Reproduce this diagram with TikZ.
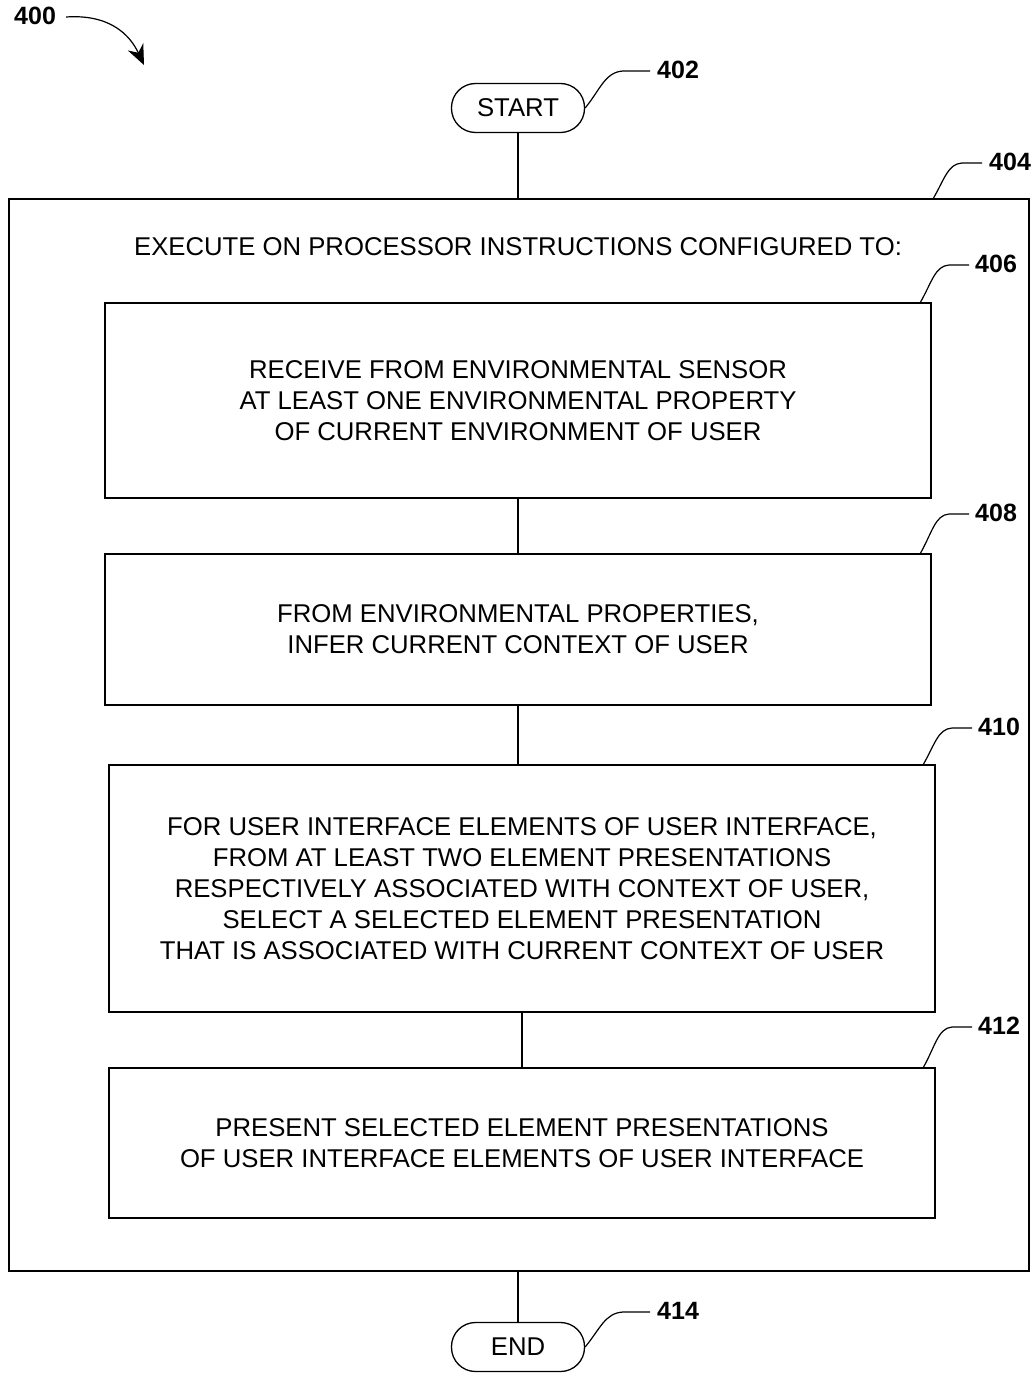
\documentclass[tikz,border=0pt]{standalone}
\usepackage{fontspec}
\setmainfont{Liberation Sans}
\usetikzlibrary{arrows.meta}
\tikzset{
  stepbox/.style={draw, line width=1.3pt, inner sep=0pt, align=center, font=\fontsize{25.7}{31}\selectfont},
  term/.style={draw, line width=1.3pt, rounded corners=24pt, minimum width=133pt, minimum height=49pt, inner sep=0pt, font=\fontsize{25.7}{31}\selectfont},
  conn/.style={line width=1.3pt},
  leader/.style={line width=1.2pt},
  lab/.style={font=\bfseries\fontsize{25}{28}\selectfont, inner sep=0pt, anchor=west}
}
\begin{document}
\begin{tikzpicture}[x=1pt,y=-1pt]
\useasboundingbox[fill=white] (0,0) rectangle (1034,1375);
% 400
\node[lab] (l400) at (14,16) {400};
\coordinate (a400) at (144,65);
\draw[leader,-{Stealth[length=20pt,width=17pt]}] (l400.east)+(10,1) .. controls (110,14) and (130,35) .. (a400);
% start
\node[term] (start) at (518,108) {START};
\node[lab] (l402) at (657,70) {402};
\draw[leader] (start.east) .. controls (600,90) and (605,72) .. (623,71) -- (650,71);
% outer box
\node[draw, line width=1.3pt, minimum width=1020pt, minimum height=1072pt, inner sep=0pt] (b404) at (519,735) {};
\node[font=\fontsize{25.7}{31}\selectfont, inner sep=0pt] (hdr) at (518,247) {EXECUTE ON PROCESSOR INSTRUCTIONS CONFIGURED TO:};
\node[lab] (l404) at (989,162) {404};
\draw[leader] (933,199) .. controls (945,178) and (948,164) .. (962,163) -- (982,163);
% 406
\node[stepbox, minimum width=826pt, minimum height=195pt] (b406) at (518,400.5) {RECEIVE FROM ENVIRONMENTAL SENSOR\\AT LEAST ONE ENVIRONMENTAL PROPERTY\\OF CURRENT ENVIRONMENT OF USER};
\node[lab] (l406) at (975,264) {406};
\draw[leader] (920,303) .. controls (932,282) and (935,266) .. (949,265) -- (969,265);
% 408
\node[stepbox, minimum width=826pt, minimum height=151pt] (b408) at (518,629.5) {FROM ENVIRONMENTAL PROPERTIES,\\INFER CURRENT CONTEXT OF USER};
\node[lab] (l408) at (975,513) {408};
\draw[leader] (920,554) .. controls (932,533) and (935,515) .. (949,514) -- (969,514);
% 410
\node[stepbox, minimum width=826pt, minimum height=247pt] (b410) at (522,888.5) {FOR USER INTERFACE ELEMENTS OF USER INTERFACE,\\FROM AT LEAST TWO ELEMENT PRESENTATIONS\\RESPECTIVELY ASSOCIATED WITH CONTEXT OF USER,\\SELECT A SELECTED ELEMENT PRESENTATION\\THAT IS ASSOCIATED WITH CURRENT CONTEXT OF USER};
\node[lab] (l410) at (978,727) {410};
\draw[leader] (923,765) .. controls (935,744) and (938,729) .. (952,728) -- (972,728);
% 412
\node[stepbox, minimum width=826pt, minimum height=150pt] (b412) at (522,1143) {PRESENT SELECTED ELEMENT PRESENTATIONS\\OF USER INTERFACE ELEMENTS OF USER INTERFACE};
\node[lab] (l412) at (978,1026) {412};
\draw[leader] (923,1068) .. controls (935,1047) and (938,1028) .. (952,1027) -- (972,1027);
% end
\node[term] (end) at (518,1347) {END};
\node[lab] (l414) at (657,1311) {414};
\draw[leader] (end.east) .. controls (600,1329) and (605,1313) .. (623,1312) -- (650,1312);
% connectors
\draw[conn] (start.south) -- (start.south |- b404.north);
\draw[conn] (b406.south) -- (b408.north);
\draw[conn] (b408.south) -- (b408.south |- b410.north);
\draw[conn] (b410.south) -- (b412.north);
\draw[conn] (end.north |- b404.south) -- (end.north);
\end{tikzpicture}
\end{document}
